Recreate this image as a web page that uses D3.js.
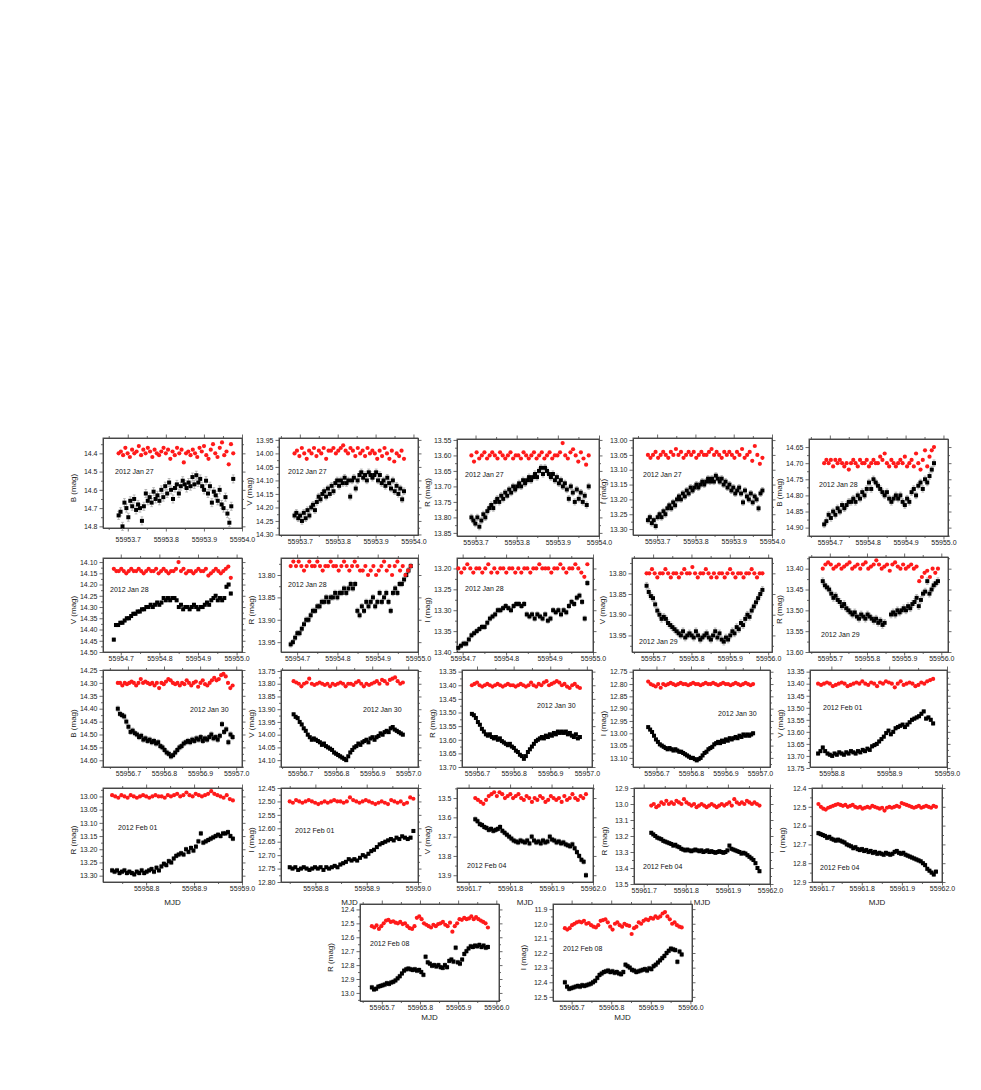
<!DOCTYPE html>
<html>
<head>
<meta charset="utf-8">
<script src="https://cdn.jsdelivr.net/npm/d3@7"></script>
<style>
  body { margin: 0; background: #fff; }
  svg { font-family: "Liberation Sans", Arial, sans-serif; }
  .axis text { font-size: 7px; fill: #222; }
  .axis line, .axis path { stroke: #444; stroke-width: 0.8; }
  .ytitle, .xtitle { font-size: 8px; fill: #222; }
  .date { font-size: 7px; fill: #111; }
</style>
</head>
<body>
<svg id="chart" width="981" height="1090"></svg>
<script>
/*
 *  Multi-band light curves, 2012 Jan 27 - Feb 08
 *  black = target, red = comparison star
 */

var bands = ["B","V","R","I","B", "V","R","I","V","R", "B","V","R","I","V",
             "R","I","V","R","I", "R","I"];
var dates = ["2012 Jan 27","2012 Jan 27","2012 Jan 27","2012 Jan 27","2012 Jan 28",
             "2012 Jan 28","2012 Jan 28","2012 Jan 28","2012 Jan 29","2012 Jan 29",
             "2012 Jan 30","2012 Jan 30","2012 Jan 30","2012 Jan 30","2012 Feb 01",
             "2012 Feb 01","2012 Feb 01","2012 Feb 04","2012 Feb 04","2012 Feb 04",
             "2012 Feb 08","2012 Feb 08"];

// first and last observation (MJD) of each night
var tStart = [55953.676,55953.686,55953.690,55953.676,55954.685, 55954.682,55954.684,55954.690,55955.683,55955.681,
              55956.672,55956.682,55956.686,55956.676,55958.777, 55958.729,55958.750,55961.716,55961.718,55961.692,
              55965.674,55965.683];
var tEnd   = [55953.977,55953.975,55953.975,55953.975,55954.975, 55954.985,55954.982,55954.987,55955.985,55955.991,
              55956.990,55956.985,55956.981,55956.980,55958.976, 55958.981,55958.991,55961.983,55961.975,55961.985,
              55965.978,55965.978];

var xDomains = [[55953.635,55954.0],[55953.645,55954.012],[55953.655,55954.0],[55953.637,55954.0],[55954.645,55955.012],
                [55954.654,55955.014],[55954.66,55955.0],[55954.687,55955.0],[55955.645,55956.01],[55955.644,55956.018],
                [55956.631,55957.016],[55956.647,55957.027],[55956.659,55957.014],[55956.632,55957.029],[55958.763,55959.0],
                [55958.71,55959.0],[55958.733,55959.0],[55961.672,55962.0],[55961.677,55962.0],[55961.676,55962.0],
                [55965.643,55966.007],[55965.653,55966.004]];
var yDomains = [[14.316,14.809],[13.943,14.302],[13.547,13.86],[12.993,13.32],[14.625,14.926],
                [14.082,14.50],[13.762,13.972],[13.175,13.40],[13.763,13.99],[13.372,13.60],
                [14.25,14.626],[13.746,14.127],[13.344,13.70],[12.743,13.137],[13.343,13.746],
                [12.968,13.324],[12.45,12.80],[13.448,13.935],[12.9,13.5],[12.4,12.9],
                [12.361,13.058],[11.865,12.528]];

var xTicks = [[55953.7,55953.8,55953.9,55954.0],[55953.7,55953.8,55953.9,55954.0],[55953.7,55953.8,55953.9,55954.0],
              [55953.7,55953.8,55953.9,55954.0],[55954.7,55954.8,55954.9,55955.0],[55954.7,55954.8,55954.9,55955.0],
              [55954.7,55954.8,55954.9,55955.0],[55954.7,55954.8,55954.9,55955.0],[55955.7,55955.8,55955.9,55956.0],
              [55955.7,55955.8,55955.9,55956.0],[55956.7,55956.8,55956.9,55957.0],[55956.7,55956.8,55956.9,55957.0],
              [55956.7,55956.8,55956.9,55957.0],[55956.7,55956.8,55956.9,55957.0],[55958.8,55958.9,55959.0],
              [55958.8,55958.9,55959.0],[55958.8,55958.9,55959.0],[55961.7,55961.8,55961.9,55962.0],
              [55961.7,55961.8,55961.9,55962.0],[55961.7,55961.8,55961.9,55962.0],[55965.7,55965.8,55965.9,55966.0],
              [55965.7,55965.8,55965.9,55966.0]];
var yTicks = [[14.4,14.5,14.6,14.7,14.8],
              [13.95,14.00,14.05,14.10,14.15,14.20,14.25,14.30],
              [13.55,13.60,13.65,13.70,13.75,13.80,13.85],
              [13.00,13.05,13.10,13.15,13.20,13.25,13.30],
              [14.65,14.70,14.75,14.80,14.85,14.90],
              [14.10,14.15,14.20,14.25,14.30,14.35,14.40,14.45,14.50],
              [13.80,13.85,13.90,13.95],
              [13.20,13.25,13.30,13.35,13.40],
              [13.80,13.85,13.90,13.95],
              [13.40,13.45,13.50,13.55,13.60],
              [14.25,14.30,14.35,14.40,14.45,14.50,14.55,14.60],
              [13.75,13.80,13.85,13.90,13.95,14.00,14.05,14.10],
              [13.35,13.40,13.45,13.50,13.55,13.60,13.65,13.70],
              [12.75,12.80,12.85,12.90,12.95,13.00,13.05,13.10],
              [13.35,13.40,13.45,13.50,13.55,13.60,13.65,13.70,13.75],
              [13.00,13.05,13.10,13.15,13.20,13.25,13.30],
              [12.45,12.50,12.55,12.60,12.65,12.70,12.75,12.80],
              [13.5,13.6,13.7,13.8,13.9],
              [12.9,13.0,13.1,13.2,13.3,13.4,13.5],
              [12.4,12.5,12.6,12.7,12.8,12.9],
              [12.4,12.5,12.6,12.7,12.8,12.9,13.0],
              [11.9,12.0,12.1,12.2,12.3,12.4,12.5]];

// typical photometric error of the target (mag)
var errs = [0.022,0.012,0.010,0.010,0.010, 0.007,0.006,0.006,0.008,0.008,
            0.010,0.006,0.005,0.006,0.007, 0.008,0.006,0.012,0.010,0.010, 0.015,0.015];

// target magnitudes (black squares)
var target = [
  [14.74,14.72,14.80,14.67,14.70,14.75,14.66,14.69,14.65,14.71,14.68,14.70,14.77,14.69,14.62,14.66,14.64,14.67,14.61,14.65,14.63,14.66,14.60,14.64,14.58,14.62,14.56,14.60,14.65,14.59,14.57,14.62,14.58,14.55,14.57,14.59,14.56,14.58,14.53,14.57,14.52,14.56,14.54,14.58,14.60,14.55,14.62,14.58,14.67,14.61,14.63,14.66,14.60,14.68,14.70,14.64,14.73,14.78,14.69,14.54],
  [14.23,14.22,14.24,14.23,14.25,14.22,14.24,14.21,14.23,14.20,14.19,14.21,14.18,14.16,14.17,14.15,14.14,14.16,14.13,14.15,14.12,14.14,14.11,14.10,14.12,14.10,14.11,14.09,14.11,14.10,14.16,14.10,14.09,14.13,14.10,14.08,14.07,14.09,14.08,14.10,14.07,14.08,14.09,14.08,14.07,14.10,14.08,14.11,14.10,14.12,14.09,14.11,14.13,14.10,14.14,14.12,14.15,14.13,14.17,14.14],
  [13.80,13.81,13.82,13.80,13.83,13.81,13.79,13.80,13.78,13.77,13.76,13.77,13.75,13.74,13.75,13.73,13.74,13.72,13.73,13.71,13.72,13.70,13.71,13.70,13.69,13.70,13.68,13.69,13.68,13.67,13.68,13.67,13.66,13.67,13.65,13.64,13.66,13.64,13.65,13.66,13.67,13.66,13.68,13.67,13.69,13.68,13.70,13.69,13.71,13.74,13.70,13.72,13.75,13.71,13.74,13.72,13.75,13.73,13.76,13.70],
  [13.27,13.26,13.28,13.27,13.29,13.26,13.25,13.26,13.24,13.25,13.23,13.22,13.23,13.21,13.22,13.20,13.19,13.20,13.18,13.19,13.17,13.18,13.16,13.17,13.16,13.15,13.16,13.15,13.14,13.15,13.14,13.13,13.14,13.13,13.14,13.12,13.13,13.14,13.13,13.15,13.14,13.16,13.15,13.17,13.16,13.18,13.17,13.16,13.18,13.21,13.17,13.19,13.20,13.18,13.21,13.19,13.20,13.23,13.18,13.17],
  [14.89,14.88,14.86,14.87,14.85,14.86,14.84,14.85,14.83,14.84,14.83,14.82,14.82,14.81,14.82,14.80,14.81,14.79,14.80,14.78,14.76,14.78,14.75,14.76,14.77,14.78,14.79,14.80,14.79,14.81,14.82,14.81,14.80,14.81,14.80,14.82,14.83,14.81,14.82,14.79,14.78,14.80,14.77,14.76,14.78,14.75,14.76,14.74,14.72,14.70],
  [14.445,14.38,14.38,14.37,14.37,14.36,14.35,14.35,14.34,14.33,14.33,14.32,14.32,14.31,14.31,14.30,14.30,14.29,14.30,14.29,14.28,14.29,14.28,14.26,14.27,14.26,14.27,14.26,14.26,14.27,14.30,14.29,14.31,14.30,14.30,14.31,14.30,14.29,14.30,14.31,14.30,14.30,14.29,14.28,14.29,14.27,14.26,14.25,14.27,14.26,14.27,14.26,14.21,14.20,14.24],
  [13.955,13.95,13.94,13.93,13.93,13.92,13.91,13.90,13.90,13.89,13.88,13.88,13.87,13.87,13.86,13.86,13.85,13.86,13.85,13.85,13.84,13.85,13.84,13.84,13.83,13.84,13.83,13.82,13.83,13.82,13.88,13.89,13.87,13.88,13.86,13.87,13.86,13.85,13.87,13.86,13.84,13.86,13.85,13.84,13.86,13.88,13.84,13.83,13.84,13.82,13.82,13.81,13.80,13.79,13.78],
  [13.39,13.385,13.38,13.38,13.37,13.36,13.355,13.35,13.345,13.34,13.34,13.33,13.32,13.315,13.31,13.30,13.30,13.295,13.29,13.295,13.30,13.29,13.285,13.285,13.29,13.285,13.31,13.315,13.31,13.32,13.31,13.315,13.32,13.31,13.325,13.32,13.30,13.305,13.30,13.31,13.30,13.305,13.29,13.28,13.285,13.27,13.265,13.28,13.32,13.235],
  [13.83,13.845,13.855,13.86,13.875,13.89,13.90,13.91,13.905,13.91,13.92,13.925,13.93,13.935,13.94,13.945,13.95,13.94,13.955,13.95,13.945,13.95,13.955,13.94,13.95,13.96,13.955,13.95,13.945,13.955,13.96,13.95,13.94,13.955,13.945,13.96,13.965,13.955,13.96,13.95,13.94,13.945,13.93,13.935,13.92,13.925,13.91,13.90,13.905,13.89,13.88,13.87,13.86,13.85,13.84],
  [13.43,13.44,13.445,13.45,13.46,13.47,13.465,13.475,13.48,13.49,13.485,13.495,13.50,13.505,13.51,13.505,13.515,13.52,13.51,13.515,13.52,13.51,13.515,13.52,13.525,13.52,13.53,13.525,13.535,13.53,null,null,13.51,13.505,13.51,13.50,13.505,13.50,13.495,13.50,13.49,13.495,13.485,13.48,13.47,13.49,13.475,13.46,13.455,13.43,13.46,13.45,13.44,13.435,13.43],
  [14.40,14.42,14.425,14.43,14.45,14.47,14.49,14.485,14.495,14.50,14.51,14.505,14.52,14.515,14.525,14.52,14.53,14.525,14.535,14.53,14.545,14.55,14.56,14.57,14.575,14.585,14.58,14.57,14.56,14.55,14.545,14.535,14.53,14.525,14.53,14.52,14.525,14.515,14.52,14.51,14.525,14.515,14.52,14.51,14.50,14.515,14.51,14.52,14.505,14.46,14.49,14.48,14.53,14.50,14.51],
  [13.92,13.93,13.935,13.95,13.96,13.975,13.985,14.00,14.01,14.02,14.015,14.02,14.025,14.03,14.04,14.035,14.045,14.05,14.055,14.06,14.07,14.075,14.08,14.085,14.09,14.095,14.10,14.085,14.07,14.06,14.05,14.045,14.035,14.04,14.03,14.025,14.02,14.03,14.015,14.01,14.02,14.01,14.005,13.995,14.00,13.99,13.985,13.99,13.975,13.97,13.98,13.985,13.99,13.995,14.00],
  [13.505,13.51,13.52,13.535,13.545,13.56,13.57,13.58,13.585,13.58,13.59,13.595,13.59,13.60,13.595,13.605,13.61,13.615,13.62,13.615,13.625,13.63,13.64,13.645,13.655,13.66,13.67,13.66,13.645,13.635,13.625,13.615,13.605,13.60,13.595,13.59,13.595,13.585,13.59,13.58,13.585,13.575,13.58,13.57,13.575,13.57,13.575,13.57,13.58,13.575,13.585,13.59,13.58,13.595,13.59],
  [12.975,12.985,12.995,13.01,13.025,13.035,13.045,13.05,13.055,13.06,13.065,13.06,13.065,13.07,13.065,13.07,13.075,13.075,13.08,13.085,13.09,13.095,13.10,13.10,13.105,13.11,13.105,13.10,13.09,13.08,13.075,13.065,13.06,13.055,13.045,13.04,13.035,13.04,13.03,13.035,13.025,13.03,13.02,13.025,13.02,13.015,13.02,13.01,13.015,13.005,13.01,13.005,13.01,13.005,13.00],
  [13.69,13.68,13.665,13.68,13.69,13.695,13.70,13.69,13.695,13.685,13.69,13.695,13.685,13.69,13.68,13.685,13.69,13.68,13.685,13.675,13.68,13.67,13.675,13.66,13.655,13.65,13.64,13.63,13.62,13.605,13.595,13.61,13.60,13.585,13.58,13.575,13.57,13.58,13.57,13.56,13.55,13.545,13.54,13.535,13.525,13.515,13.545,13.54,13.55,13.565],
  [13.28,13.285,13.28,13.29,13.285,13.28,13.29,13.285,13.29,13.295,13.285,13.29,13.28,13.29,13.285,13.28,13.275,13.285,13.27,13.28,13.265,13.255,13.26,13.245,13.25,13.235,13.225,13.22,13.215,13.22,13.20,13.21,13.195,13.205,13.19,13.17,13.14,13.175,13.17,13.165,13.16,13.155,13.15,13.145,13.15,13.14,13.14,13.135,13.15,13.16],
  [12.745,12.75,12.745,12.755,12.75,12.745,12.75,12.755,12.75,12.745,12.75,12.745,12.755,12.745,12.75,12.745,12.74,12.745,12.735,12.73,12.725,12.715,12.72,12.715,12.72,12.71,12.70,12.705,12.695,12.685,12.68,12.67,12.66,12.655,12.65,12.645,12.64,12.645,12.635,12.64,12.63,12.635,12.64,12.635,12.61],
  [13.61,13.62,13.635,13.64,13.65,13.655,13.665,13.66,13.67,13.665,13.66,13.65,13.67,13.68,13.69,13.70,13.71,13.72,13.725,13.73,13.72,13.725,13.73,13.72,13.735,13.70,13.72,13.73,13.725,13.735,13.72,13.73,13.725,13.70,13.715,13.72,13.73,13.725,13.735,13.73,13.74,13.745,13.75,13.74,13.76,13.78,13.80,13.82,13.83,13.90],
  [13.18,13.19,13.20,13.21,13.215,13.22,13.23,13.235,13.24,13.245,13.25,13.26,13.255,13.265,13.27,13.28,13.285,13.29,13.285,13.29,13.295,13.29,13.285,13.29,13.295,13.29,13.30,13.295,13.29,13.30,13.295,13.30,13.305,13.30,13.295,13.30,13.305,13.30,13.29,13.26,13.28,13.285,13.29,13.295,13.30,13.31,13.305,13.31,13.32,13.33,13.34,13.35,13.37,13.40,13.42],
  [12.64,12.645,12.65,12.655,12.665,12.66,12.67,12.675,12.68,12.675,12.68,12.685,12.69,12.70,12.705,12.71,12.72,12.715,12.725,12.73,12.725,12.735,12.73,12.74,12.735,12.745,12.74,12.75,12.745,12.75,12.755,12.745,12.75,12.755,12.75,12.74,12.735,12.745,12.75,12.745,12.755,12.76,12.765,12.77,12.775,12.78,12.785,12.79,12.80,12.81,12.83,12.84,12.85,12.86,12.845],
  [12.96,12.975,12.97,12.955,12.95,12.945,12.94,12.93,12.935,12.925,12.92,12.91,12.895,12.88,12.86,12.84,12.83,12.825,12.83,12.835,12.83,12.84,12.835,12.85,12.87,12.74,12.78,12.79,12.805,12.80,12.81,12.80,12.815,12.82,12.80,12.815,12.77,12.76,12.775,12.675,12.78,12.79,12.76,12.72,12.70,12.68,12.665,12.67,12.66,12.665,12.655,12.67,12.66,12.675,12.67],
  [12.40,12.43,12.445,12.44,12.435,12.43,12.425,12.43,12.42,12.425,12.42,12.415,12.41,12.40,12.39,12.37,12.35,12.34,12.33,12.325,12.32,12.33,12.325,12.335,12.33,12.34,12.345,12.33,12.28,12.29,12.30,12.315,12.32,12.33,12.325,12.32,12.315,12.31,12.32,12.305,12.31,12.29,12.28,12.265,12.25,12.235,12.22,12.20,12.185,12.17,12.175,12.18,12.26,12.19,12.21]
];

// comparison star magnitudes (red dots)
var comparison = [
  [14.40,14.39,14.41,14.37,14.40,14.42,14.38,14.40,14.39,14.36,14.41,14.38,14.40,14.37,14.39,14.42,14.38,14.40,14.41,14.39,14.37,14.40,14.38,14.43,14.39,14.41,14.37,14.40,14.38,14.45,14.40,14.39,14.41,14.38,14.40,14.42,14.37,14.39,14.36,14.41,14.43,14.38,14.35,14.40,14.42,14.37,14.34,14.41,14.39,14.46,14.35,14.40],
  [14.00,13.99,14.01,13.98,14.00,14.02,13.99,14.00,13.98,14.01,13.99,14.00,13.98,14.02,13.99,13.99,13.98,14.00,13.99,13.98,13.97,13.99,14.00,13.98,13.99,14.01,13.98,14.00,13.99,14.01,13.98,14.00,13.99,14.00,14.02,13.99,14.01,13.98,14.00,14.02,13.99,14.03,14.00,14.01,13.99,14.02],
  [13.60,13.62,13.59,13.61,13.60,13.59,13.61,13.60,13.59,13.60,13.61,13.59,13.60,13.61,13.60,13.59,13.61,13.60,13.60,13.61,13.59,13.60,13.61,13.60,13.59,13.61,13.60,13.59,13.61,13.60,13.59,13.61,13.60,13.60,13.59,13.56,13.60,13.61,13.59,13.58,13.60,13.62,13.59,13.61,13.63,13.60],
  [13.05,13.06,13.05,13.04,13.06,13.05,13.04,13.05,13.06,13.04,13.05,13.03,13.05,13.04,13.06,13.05,13.04,13.05,13.04,13.06,13.05,13.04,13.05,13.05,13.04,13.03,13.05,13.04,13.05,13.06,13.04,13.05,13.04,13.05,13.06,13.04,13.05,13.03,13.06,13.05,13.04,13.07,13.02,13.05,13.08,13.06],
  [14.70,14.69,14.70,14.69,14.71,14.69,14.70,14.69,14.70,14.71,14.70,14.72,14.70,14.69,14.70,14.71,14.69,14.70,14.70,14.69,14.71,14.70,14.69,14.70,14.70,14.68,14.69,14.67,14.70,14.71,14.69,14.70,14.71,14.70,14.69,14.70,14.68,14.71,14.70,14.69,14.71,14.67,14.70,14.72,14.69,14.66,14.71,14.68,14.66,14.65],
  [14.13,14.14,14.14,14.13,14.14,14.15,14.14,14.13,14.14,14.14,14.13,14.14,14.15,14.14,14.13,14.14,14.14,14.13,14.15,14.14,14.13,14.14,14.15,14.14,14.14,14.13,14.10,14.14,14.13,14.15,14.14,14.14,14.15,14.14,14.13,14.14,14.14,14.13,14.16,14.15,14.14,14.13,14.14,14.15,14.14,14.13,14.12,14.17],
  [13.78,13.77,13.78,13.77,13.78,13.79,13.78,13.77,13.78,13.78,13.77,13.78,13.79,13.78,13.78,13.77,13.78,13.78,13.79,13.78,13.77,13.78,13.79,13.78,13.77,13.78,13.79,13.79,13.78,13.80,13.79,13.78,13.80,13.79,13.78,13.77,13.79,13.78,13.80,13.78,13.77,13.79,13.78,13.80,13.79,13.78],
  [13.20,13.21,13.20,13.19,13.20,13.21,13.20,13.20,13.21,13.20,13.19,13.21,13.20,13.21,13.20,13.20,13.21,13.20,13.20,13.21,13.20,13.21,13.20,13.20,13.21,13.20,13.20,13.19,13.20,13.20,13.20,13.21,13.20,13.20,13.19,13.20,13.21,13.20,13.20,13.19,13.20,13.21,13.22,13.19],
  [13.80,13.80,13.79,13.80,13.81,13.80,13.80,13.79,13.80,13.81,13.80,13.80,13.81,13.80,13.79,13.80,13.80,13.785,13.80,13.81,13.80,13.80,13.79,13.80,13.81,13.80,13.81,13.80,13.80,13.81,13.80,13.79,13.80,13.81,13.80,13.80,13.81,13.80,13.80,13.79,13.80,13.81,13.80,13.80],
  [13.40,13.39,13.385,13.39,13.40,13.395,13.39,13.40,13.395,13.39,13.385,13.40,13.395,13.39,13.40,13.39,13.385,13.40,13.395,13.39,13.38,13.39,13.40,13.395,13.39,13.405,13.39,13.385,13.395,13.40,13.39,13.40,13.395,13.39,13.40,13.395,13.43,13.42,13.41,13.405,13.42,13.40,13.41,13.40],
  [14.30,14.30,14.31,14.30,14.305,14.30,14.295,14.30,14.31,14.30,14.285,14.30,14.295,14.30,14.305,14.30,14.31,14.30,14.32,14.30,14.305,14.295,14.285,14.29,14.30,14.305,14.30,14.31,14.30,14.305,14.29,14.30,14.31,14.30,14.295,14.315,14.30,14.29,14.305,14.31,14.30,14.29,14.28,14.29,14.285,14.27,14.265,14.275,14.30,14.32,14.31],
  [13.79,13.795,13.80,13.81,13.80,13.795,13.78,13.80,13.805,13.80,13.795,13.80,13.805,13.80,13.81,13.80,13.805,13.80,13.795,13.80,13.81,13.80,13.80,13.805,13.795,13.79,13.80,13.81,13.80,13.805,13.80,13.795,13.79,13.80,13.785,13.79,13.80,13.785,13.78,13.775,13.79,13.80,13.795],
  [13.40,13.395,13.39,13.40,13.405,13.40,13.395,13.40,13.405,13.40,13.395,13.40,13.405,13.40,13.395,13.40,13.40,13.405,13.40,13.395,13.40,13.405,13.40,13.39,13.40,13.405,13.395,13.40,13.39,13.385,13.40,13.395,13.39,13.385,13.39,13.40,13.395,13.405,13.41,13.40,13.395,13.405,13.41],
  [12.79,12.80,12.805,12.81,12.80,12.815,12.80,12.805,12.80,12.795,12.80,12.805,12.80,12.795,12.80,12.80,12.805,12.80,12.795,12.80,12.80,12.805,12.80,12.795,12.80,12.80,12.795,12.80,12.805,12.80,12.795,12.80,12.80,12.805,12.80,12.795,12.80,12.805,12.80,12.795,12.80,12.805,12.80],
  [13.40,13.405,13.40,13.395,13.40,13.41,13.405,13.40,13.395,13.40,13.41,13.405,13.40,13.395,13.40,13.39,13.40,13.405,13.395,13.40,13.41,13.395,13.40,13.39,13.395,13.40,13.415,13.40,13.39,13.405,13.40,13.395,13.40,13.41,13.405,13.395,13.40,13.39,13.385,13.38],
  [12.995,13.00,13.005,12.995,13.00,13.005,12.995,13.00,13.005,13.00,12.995,13.00,13.005,13.00,12.995,13.00,13.00,13.005,12.995,13.00,12.995,12.99,13.00,12.995,12.985,12.995,13.00,12.99,12.995,13.00,12.995,12.99,12.98,12.99,12.995,13.00,13.005,12.995,13.01,13.015],
  [12.50,12.505,12.495,12.50,12.505,12.50,12.495,12.50,12.505,12.51,12.505,12.50,12.505,12.50,12.495,12.50,12.50,12.505,12.50,12.485,12.495,12.50,12.505,12.50,12.495,12.50,12.505,12.51,12.505,12.50,12.505,12.51,12.495,12.50,12.505,12.50,12.51,12.505,12.485,12.49],
  [13.50,13.51,13.52,13.53,13.51,13.49,13.48,13.47,13.49,13.47,13.48,13.50,13.49,13.48,13.50,13.49,13.48,13.50,13.51,13.49,13.50,13.52,13.50,13.51,13.49,13.50,13.52,13.51,13.49,13.50,13.51,13.50,13.52,13.49,13.51,13.50,13.48,13.50,13.51,13.49,13.50,13.48],
  [13.01,13.00,13.02,13.01,12.99,13.00,12.98,13.00,12.99,13.00,12.98,12.99,13.00,12.97,12.99,13.00,13.01,13.00,13.02,13.01,13.00,13.01,13.02,13.01,13.00,13.01,13.02,13.01,13.00,13.01,13.00,12.99,13.01,12.97,12.99,13.00,12.99,13.00,12.98,12.99,13.00,12.99,13.00,13.01],
  [12.485,12.50,12.51,12.515,12.505,12.50,12.495,12.49,12.485,12.49,12.495,12.49,12.50,12.495,12.49,12.50,12.505,12.50,12.51,12.505,12.50,12.505,12.495,12.50,12.505,12.51,12.505,12.52,12.505,12.50,12.505,12.50,12.495,12.50,12.48,12.485,12.49,12.495,12.50,12.505,12.50,12.495,12.505,12.50,12.495,12.50,12.505,12.495,12.50],
  [12.52,12.53,12.515,12.54,12.52,12.50,12.48,12.475,12.49,12.485,12.495,12.50,12.49,12.505,12.50,12.52,12.535,12.54,12.52,12.46,12.45,12.47,12.50,12.51,12.52,12.53,12.51,12.52,12.505,12.50,12.49,12.51,12.52,12.495,12.56,12.52,12.50,12.47,12.475,12.46,12.47,12.465,12.45,12.47,12.455,12.47,12.48,12.49,12.50,12.53],
  [12.03,12.04,12.03,12.01,12.00,11.99,11.985,11.99,11.98,12.00,11.995,12.01,12.02,12.025,12.01,11.98,11.975,11.97,11.99,12.02,12.04,12.00,11.99,12.01,12.02,12.00,12.01,12.015,12.07,12.03,12.02,11.99,12.00,11.98,11.97,11.975,11.96,11.965,11.95,11.96,11.95,11.93,11.92,11.95,11.97,12.00,11.99,12.01,12.02,12.025]
];

// ---- layout (pixels): plot box [left, top, width, height] ----
var boxes = [
  [103,438,139,90],[279,438,139,97],[457,439,142,97],[633,438,139,97],[809,439,139,97],
  [103,558,139,94],[281,558,137,94],[457,558,136,94],[632,558,140,94],[809,557,139,95],
  [103,670,139,97],[281,670,137,97],[462,670,130,97],[633,670,137,97],[810,670,137,97],
  [103,788,139,94],[281,788,137,94],[457,788,136,94],[634,788,136,96],[812,788,130,94],
  [360,904,139,97],[553,904,139,97]
];
var row = [0,0,0,0,0, 1,1,1,1,1, 2,2,2,2,2, 3,3,3,3,3, 4,4];
var rowLabelY = [540, 657, 773, 889, 1006];
var mjdY = [null, null, null, 902, 1017];
// date label offset inside box
var dateOff = [[12,34],[9,34],[8,36],[10,37],[10,46], [7,32],[7,27],[8,31],[7,84],[12,78],
               [87,40],[82,40],[75,36],[85,44],[13,38], [15,40],[14,43],[10,78],[9,79],[8,80],
               [10,40],[10,45]];

var svg = d3.select("#chart");

function panel(i){
    var b = boxes[i];
    var g = svg.append("g").attr("transform", "translate(" + b[0] + "," + b[1] + ")");

    var x = d3.scaleLinear().domain(xDomains[i]).range([0, b[2]]);
    var y = d3.scaleLinear().domain(yDomains[i]).range([0, b[3]]);

    var yt = yTicks[i], xt = xTicks[i];
    var yStep = yt[1] - yt[0];
    var yFmt = d3.format(yStep < 0.09 ? ".2f" : ".1f");
    var lo = Math.min(yDomains[i][0], yDomains[i][1]), hi = Math.max(yDomains[i][0], yDomains[i][1]);
    var yMinor = [];
    for (var k = -1; k < yt.length; k++){
        var m = (k < 0 ? yt[0] - yStep/2 : yt[k] + yStep/2);
        if (m > lo && m < hi) yMinor.push(m);
    }
    var xMinor = [];
    for (var k2 = -1; k2 < xt.length; k2++){
        var mx = (k2 < 0 ? xt[0] - 0.05 : xt[k2] + 0.05);
        if (mx > xDomains[i][0] && mx < xDomains[i][1]) xMinor.push(mx);
    }

    // minor ticks
    g.append("g").attr("class", "axis")
        .call(d3.axisLeft(y).tickValues(yMinor).tickSize(2).tickSizeOuter(0).tickFormat(""));
    g.append("g").attr("class", "axis").attr("transform", "translate(" + b[2] + ",0)")
        .call(d3.axisLeft(y).tickValues(yMinor).tickSize(-2).tickSizeOuter(0).tickFormat(""));
    g.append("g").attr("class", "axis").attr("transform", "translate(0," + b[3] + ")")
        .call(d3.axisBottom(x).tickValues(xMinor).tickSize(2).tickSizeOuter(0).tickFormat(""));
    g.append("g").attr("class", "axis")
        .call(d3.axisBottom(x).tickValues(xMinor).tickSize(-2).tickSizeOuter(0).tickFormat(""));

    // major ticks + labels
    g.append("g").attr("class", "axis")
        .call(d3.axisLeft(y).tickValues(yt).tickSize(3.5).tickPadding(2).tickSizeOuter(0).tickFormat(yFmt));
    g.append("g").attr("class", "axis").attr("transform", "translate(" + b[2] + ",0)")
        .call(d3.axisLeft(y).tickValues(yt).tickSize(-3.5).tickSizeOuter(0).tickFormat(""));
    var pad = Math.max(1, rowLabelY[row[i]] - (b[1] + b[3]) - 2.5 - 3.5);
    g.append("g").attr("class", "axis").attr("transform", "translate(0," + b[3] + ")")
        .call(d3.axisBottom(x).tickValues(xt).tickSize(3.5).tickPadding(pad).tickSizeOuter(0).tickFormat(d3.format(".1f")));
    g.append("g").attr("class", "axis")
        .call(d3.axisBottom(x).tickValues(xt).tickSize(-3.5).tickSizeOuter(0).tickFormat(""));

    // frame
    g.append("rect")
        .attr("width", b[2]).attr("height", b[3])
        .attr("fill", "none").attr("stroke", "#444").attr("stroke-width", 0.9);

    // observations
    function series(vals){
        var n = vals.length;
        var dt = (tEnd[i] - tStart[i]) / (n - 1);
        return vals.map(function(v, k){ return { t: tStart[i] + k * dt, m: v }; })
                   .filter(function(d){ return d.m !== null; });
    }
    var tgt = series(target[i]);
    var cmp = series(comparison[i]);
    var e = errs[i];

    var eb = g.append("g").attr("stroke", "#a0a0a0").attr("stroke-width", 0.7);
    eb.selectAll(".ev").data(tgt).enter().append("line")
        .attr("x1", function(d){ return x(d.t); }).attr("x2", function(d){ return x(d.t); })
        .attr("y1", function(d){ return y(d.m - e); }).attr("y2", function(d){ return y(d.m + e); });
    eb.selectAll(".ct").data(tgt).enter().append("line")
        .attr("x1", function(d){ return x(d.t) - 1.4; }).attr("x2", function(d){ return x(d.t) + 1.4; })
        .attr("y1", function(d){ return y(d.m - e); }).attr("y2", function(d){ return y(d.m - e); });
    eb.selectAll(".cb").data(tgt).enter().append("line")
        .attr("x1", function(d){ return x(d.t) - 1.4; }).attr("x2", function(d){ return x(d.t) + 1.4; })
        .attr("y1", function(d){ return y(d.m + e); }).attr("y2", function(d){ return y(d.m + e); });

    g.selectAll(".tg").data(tgt).enter().append("rect")
        .attr("x", function(d){ return x(d.t) - 2; })
        .attr("y", function(d){ return y(d.m) - 2; })
        .attr("width", 4).attr("height", 4)
        .attr("fill", "#000");

    g.selectAll(".cp").data(cmp).enter().append("circle")
        .attr("cx", function(d){ return x(d.t); })
        .attr("cy", function(d){ return y(d.m); })
        .attr("r", 2.1)
        .attr("fill", "#ff1a1a");

    // texts
    g.append("text").attr("class", "date")
        .attr("x", dateOff[i][0]).attr("y", dateOff[i][1]).attr("dy", "0.35em")
        .text(dates[i]);

    g.append("text").attr("class", "ytitle")
        .attr("transform", "translate(-27," + (b[3] / 2 + 5) + ") rotate(-90)")
        .attr("text-anchor", "middle")
        .text(bands[i] + " (mag)");

    if (mjdY[row[i]] !== null){
        g.append("text").attr("class", "xtitle")
            .attr("x", b[2] / 2).attr("y", mjdY[row[i]] - b[1]).attr("dy", "0.35em")
            .attr("text-anchor", "middle")
            .text("MJD");
    }
}

for (var i = 0; i < boxes.length; i++) panel(i);
</script>
</body>
</html>
